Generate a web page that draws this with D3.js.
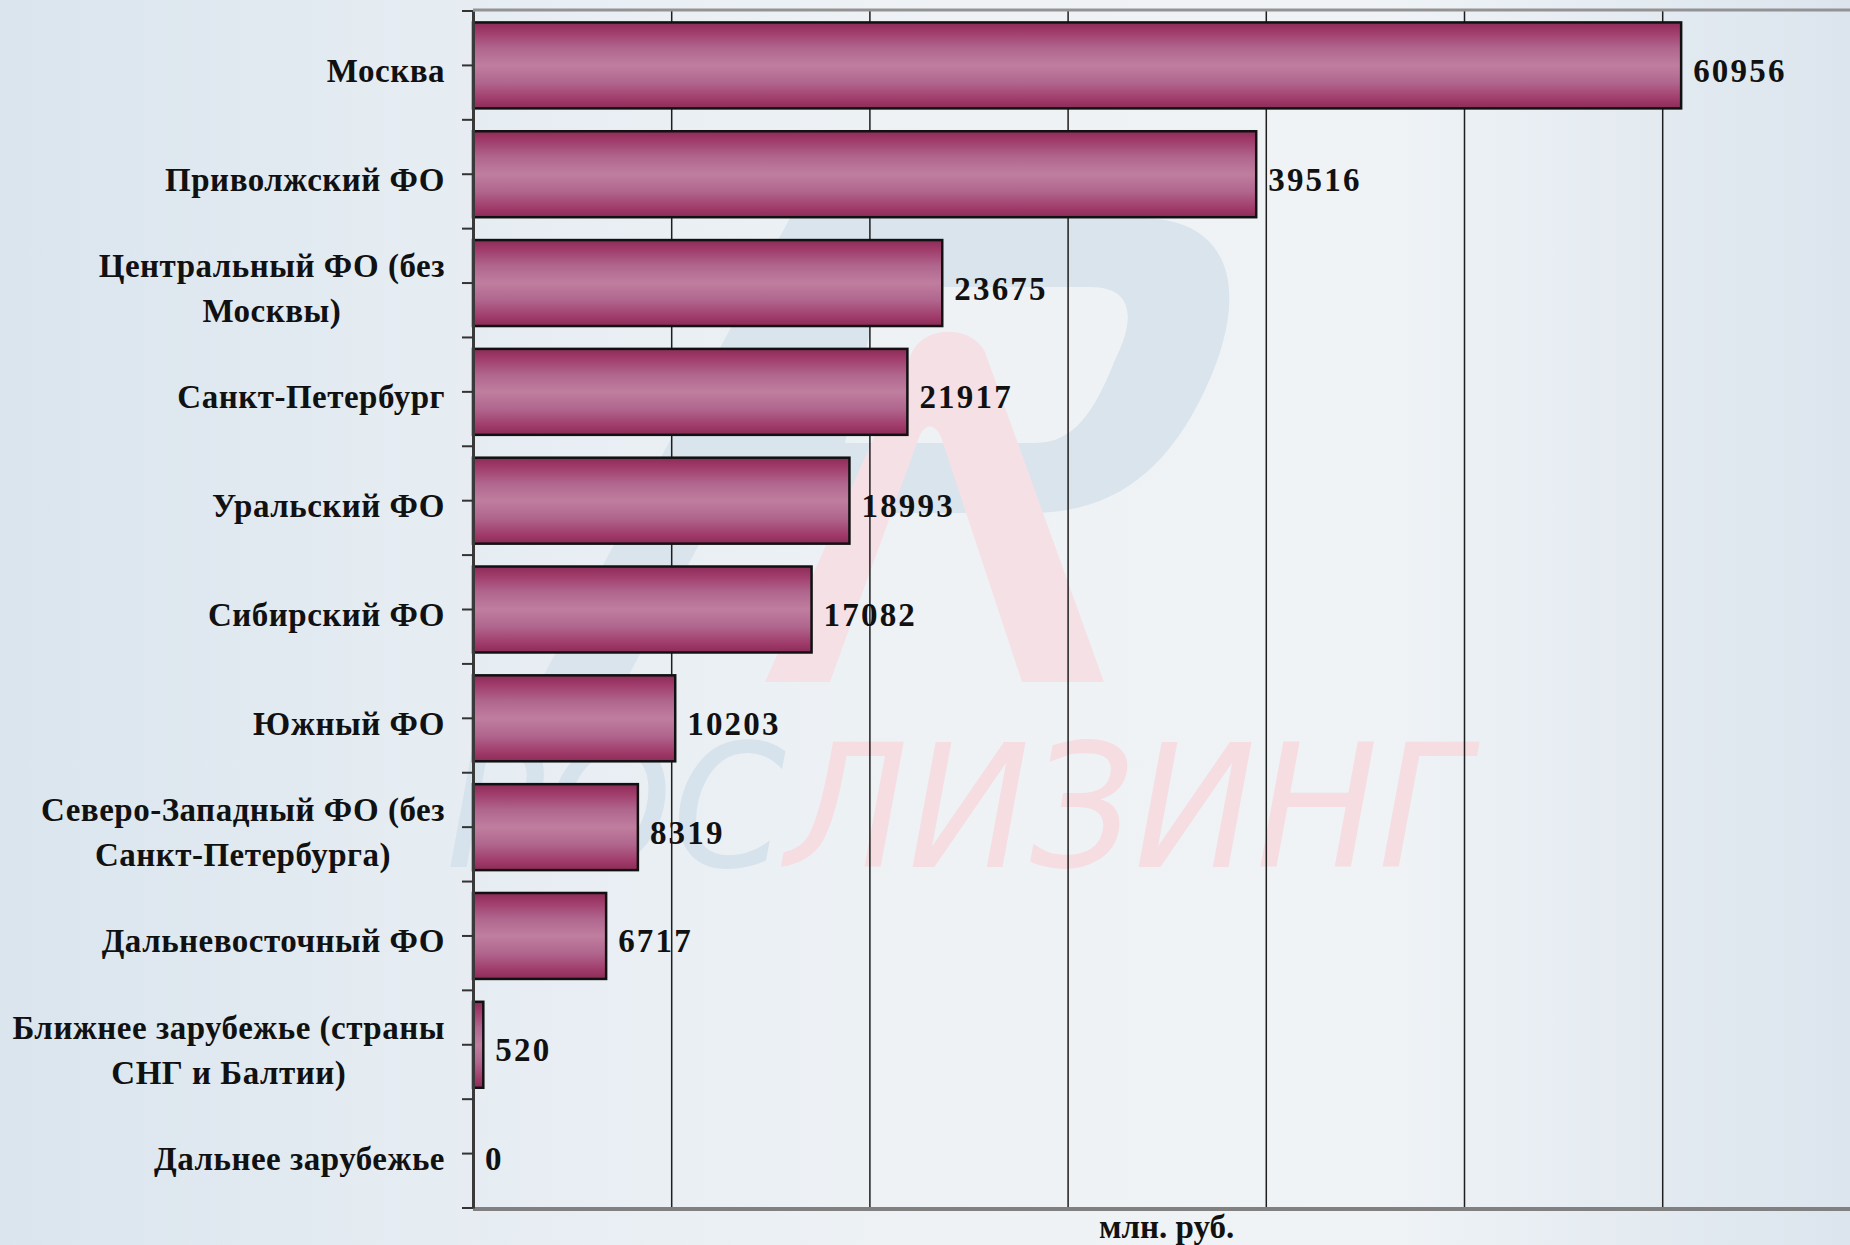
<!DOCTYPE html>
<html>
<head>
<meta charset="utf-8">
<script src="https://cdn.jsdelivr.net/npm/d3@7"></script>
<style>
	body { margin: 0; overflow: hidden; }
	svg { display: block; }
	text { font-family: "Liberation Serif", "Times New Roman", serif; font-weight: bold; fill: #111; }
</style>
</head>
<body>
<svg id="chart" width="1850" height="1245"></svg>
<script>
// regions, top to bottom (\n marks the line break in the label)
const categories = [
	"Москва",
	"Приволжский ФО",
	"Центральный ФО (без\nМосквы)",
	"Санкт-Петербург",
	"Уральский ФО",
	"Сибирский ФО",
	"Южный ФО",
	"Северо-Западный ФО (без\nСанкт-Петербурга)",
	"Дальневосточный ФО",
	"Ближнее зарубежье (страны\nСНГ и Балтии)",
	"Дальнее зарубежье"
];
const values = [60956, 39516, 23675, 21917, 18993, 17082, 10203, 8319, 6717, 520, 0];
const xTicks = [0, 10000, 20000, 30000, 40000, 50000, 60000, 70000];
const unitLabel = "млн. руб.";

const W = 1850, H = 1245;
const plot = { left: 473, top: 11, bottom: 1208 };

const svg = d3.select("#chart");
const defs = svg.append("defs");

// page background
let bg = defs.append("linearGradient").attr("id", "bgGrad").attr("x1", 0).attr("x2", 1).attr("y1", 0).attr("y2", 0);
[[0, "#dae5ee"], [0.22, "#e5ecf2"], [0.5, "#eef2f5"], [0.75, "#eff3f6"], [0.88, "#e4ebf1"], [1, "#dce5ee"]]
	.forEach(s => bg.append("stop").attr("offset", s[0]).attr("stop-color", s[1]));

// bar shading, dark edges and light middle
let bar = defs.append("linearGradient").attr("id", "barGrad").attr("x1", 0).attr("x2", 0).attr("y1", 0).attr("y2", 1);
[[0, "#8c2c58"], [0.1, "#9f3a69"], [0.3, "#b0668e"], [0.5, "#c07e9f"], [0.7, "#b0668e"], [0.9, "#9f3a69"], [1, "#8c2c58"]]
	.forEach(s => bar.append("stop").attr("offset", s[0]).attr("stop-color", s[1]));

svg.append("rect").attr("width", W).attr("height", H).attr("fill", "url(#bgGrad)");

// faint logo watermark
let wm = svg.append("g");
wm.append("path")
	.attr("d", "M790 218 L875 218 L625 682 L540 682 Z")
	.attr("fill", "#dae4ed");
wm.append("path")
	.attr("fill-rule", "evenodd")
	.attr("d", "M790 218 L1140 218 C1235 218 1250 295 1205 390 C1165 475 1110 513 1030 513 L690 513 Z " +
		"M880 287 L1090 287 C1135 287 1135 320 1115 360 C1095 410 1075 443 1035 443 L845 443 Z")
	.attr("fill", "#dae4ed");
wm.append("path")
	.attr("d", "M765 682 L912 352 C925 325 972 325 985 352 L1104 682 L1022 682 L942 440 C936 422 924 422 918 440 L830 682 Z")
	.attr("fill", "#f5e1e5");

let wmText = wm.append("text")
	.style("font-family", "'Liberation Sans Narrow', 'DejaVu Sans Condensed', sans-serif")
	.style("font-weight", "normal")
	.style("font-style", "italic")
	.style("font-size", "172px");
wmText.append("tspan").text("РОС").style("fill", "#d6e2ec");
wmText.append("tspan").text("ЛИЗИНГ").style("fill", "#f5dde2");
let wmW = wmText.node().getComputedTextLength();
wmText.attr("transform", `translate(446, 867) scale(${1023 / wmW}, 1)`);

// scales
const x = d3.scaleLinear().domain([0, 70000]).range([plot.left, plot.left + 7 * 198.2]);
const y = d3.scaleBand().domain(categories).range([plot.top, plot.bottom]).paddingInner(0.21).paddingOuter(0.105);

// vertical gridlines
svg.append("g")
	.attr("transform", `translate(0, ${plot.bottom})`)
	.call(d3.axisBottom(x).tickValues(xTicks.slice(1)).tickSize(-(plot.bottom - plot.top)).tickFormat(""))
	.call(g => g.select(".domain").remove())
	.call(g => g.selectAll(".tick line").attr("stroke", "#1e1e1e").attr("stroke-width", 1.5));

// top and bottom frame lines
svg.append("line").attr("x1", plot.left).attr("x2", W).attr("y1", plot.top - 1).attr("y2", plot.top - 1)
	.attr("stroke", "#939393").attr("stroke-width", 3);
svg.append("line").attr("x1", plot.left).attr("x2", W).attr("y1", plot.bottom + 1).attr("y2", plot.bottom + 1)
	.attr("stroke", "#808080").attr("stroke-width", 4);

// bars
svg.append("g").selectAll("rect")
	.data(values)
	.join("rect")
	.attr("x", plot.left)
	.attr("y", (d, i) => y(categories[i]))
	.attr("width", d => x(d) - plot.left)
	.attr("height", y.bandwidth())
	.attr("fill", "url(#barGrad)")
	.attr("stroke", "#111")
	.attr("stroke-width", 2.5);

// value labels
svg.append("g").selectAll("text")
	.data(values)
	.join("text")
	.attr("x", d => x(d) + 12)
	.attr("y", (d, i) => y(categories[i]) + y.bandwidth() / 2 + 16.5)
	.style("font-size", "33px")
	.style("letter-spacing", "2.2px")
	.text(d => d);

// category axis: ticks at band centres and band boundaries
const yAxis = svg.append("g")
	.attr("transform", `translate(${plot.left}, 0)`)
	.call(d3.axisLeft(y).tickSize(11).tickSizeOuter(0).tickFormat(""));
yAxis.select(".domain").attr("stroke", "#3a3a3a").attr("stroke-width", 3);
yAxis.selectAll(".tick line").attr("stroke", "#333").attr("stroke-width", 2);
let bounds = d3.range(categories.length + 1).map(i => plot.top + i * y.step());
yAxis.selectAll(".bound")
	.data(bounds)
	.join("line")
	.attr("class", "bound")
	.attr("x1", -11).attr("x2", 0)
	.attr("y1", d => d).attr("y2", d => d)
	.attr("stroke", "#333").attr("stroke-width", 2);

// category labels, right edge at 445, wrapped lines centred on each other
const labelRight = 445;
categories.forEach(c => {
	let lines = c.split("\n");
	let cy = y(c) + y.bandwidth() / 2;
	let t = svg.append("text").style("font-size", "33px").style("letter-spacing", "0.5px");
	if (lines.length === 1) {
		t.attr("x", labelRight).attr("y", cy + 16.5).attr("text-anchor", "end").text(c);
	} else {
		let spans = lines.map((l, k) => t.append("tspan").attr("y", cy - 6 + k * 45).text(l));
		let maxW = d3.max(spans, s => s.node().getComputedTextLength());
		t.attr("text-anchor", "middle");
		spans.forEach(s => s.attr("x", labelRight - maxW / 2));
	}
});

// unit caption under the plot
svg.append("text")
	.attr("x", (plot.left + x.range()[1]) / 2)
	.attr("y", 1238)
	.attr("text-anchor", "middle")
	.style("font-size", "33px")
	.text(unitLabel);
</script>
</body>
</html>
